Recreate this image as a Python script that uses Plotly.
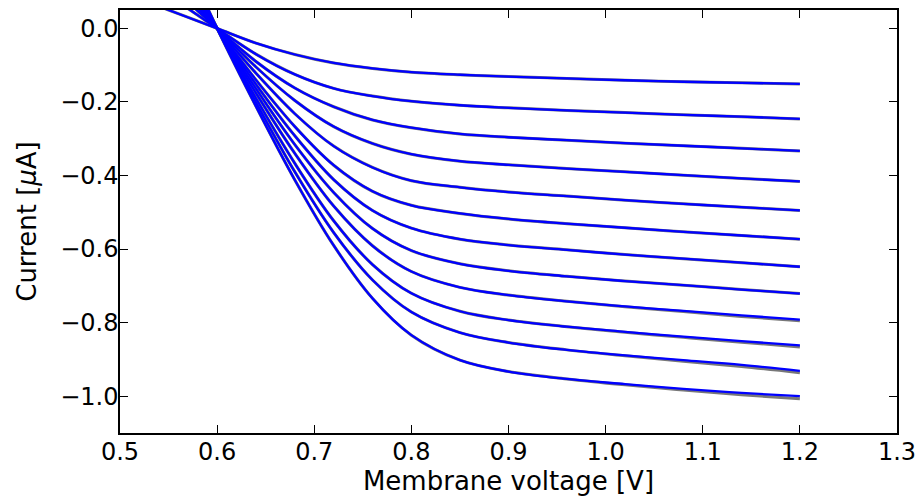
import plotly.graph_objects as go

# Membrane voltage sample points [V]
voltage = [0.5, 0.55, 0.6, 0.64, 0.68, 0.72, 0.76, 0.80, 0.85, 0.90, 0.96, 1.02, 1.08, 1.14, 1.2]

# Current curves [uA], top to bottom
c1 = [0.10, 0.05, 0, -0.040, -0.071, -0.094, -0.109, -0.119, -0.126, -0.131, -0.136, -0.141, -0.145, -0.148, -0.151]
c2 = [0.18, 0.09, 0, -0.070, -0.125, -0.163, -0.184, -0.198, -0.209, -0.216, -0.223, -0.229, -0.235, -0.240, -0.246]
c3 = [0.24, 0.12, 0, -0.090, -0.162, -0.213, -0.249, -0.270, -0.287, -0.296, -0.304, -0.312, -0.319, -0.326, -0.333]
c4 = [0.28, 0.14, 0, -0.105, -0.196, -0.267, -0.313, -0.342, -0.361, -0.371, -0.381, -0.390, -0.399, -0.408, -0.416]
c5 = [0.32, 0.16, 0, -0.122, -0.232, -0.320, -0.378, -0.414, -0.432, -0.445, -0.456, -0.467, -0.477, -0.486, -0.495]
c6 = [0.37, 0.184, 0, -0.140, -0.267, -0.372, -0.443, -0.481, -0.503, -0.518, -0.531, -0.542, -0.553, -0.563, -0.573]
c7 = [0.40, 0.20, 0, -0.152, -0.292, -0.411, -0.495, -0.543, -0.573, -0.589, -0.602, -0.615, -0.626, -0.637, -0.648]
c8 = [0.43, 0.217, 0, -0.164, -0.316, -0.446, -0.544, -0.604, -0.640, -0.659, -0.674, -0.687, -0.698, -0.710, -0.721]
c9 = [0.47, 0.233, 0, -0.176, -0.340, -0.483, -0.591, -0.661, -0.704, -0.725, -0.742, -0.756, -0.768, -0.780, -0.792]
c10 = [0.51, 0.255, 0, -0.190, -0.367, -0.523, -0.642, -0.720, -0.769, -0.793, -0.811, -0.825, -0.838, -0.850, -0.862]
c11 = [0.54, 0.27, 0, -0.201, -0.390, -0.555, -0.684, -0.771, -0.827, -0.854, -0.874, -0.889, -0.902, -0.915, -0.931]
c12 = [0.58, 0.29, 0, -0.212, -0.412, -0.590, -0.734, -0.834, -0.902, -0.933, -0.953, -0.967, -0.980, -0.991, -1.000]
curves = [c1, c2, c3, c4, c5, c6, c7, c8, c9, c10, c11, c12]

# Gray reference curves: identical to the blue ones except slightly lower tails (1.02..1.2 V)
gray_tails = {
    8: [-0.757, -0.770, -0.783, -0.795],
    9: [-0.826, -0.840, -0.853, -0.866],
    10: [-0.890, -0.905, -0.919, -0.936],
    11: [-0.969, -0.983, -0.996, -1.007],
}

xticks = [0.5, 0.6, 0.7, 0.8, 0.9, 1.0, 1.1, 1.2, 1.3]
yticks = [-1.0, -0.8, -0.6, -0.4, -0.2, 0.0]

FONT = "DejaVu Sans"

fig = go.Figure()
for i, c in enumerate(curves):
    g = list(c)
    if i in gray_tails:
        g = c[:-4] + gray_tails[i]
    fig.add_trace(go.Scatter(x=voltage, y=g, mode="lines",
                             line=dict(color="rgb(120,120,120)", width=3.0, shape="spline", smoothing=1.0),
                             showlegend=False, hoverinfo="skip"))
for c in curves:
    fig.add_trace(go.Scatter(x=voltage, y=c, mode="lines",
                             line=dict(color="#0000ff", width=2.3, shape="spline", smoothing=1.0),
                             showlegend=False))

axis_common = dict(
    showline=True, linecolor="black", linewidth=1.5, mirror="ticks",
    ticks="inside", ticklen=8, tickwidth=1, tickcolor="black",
    showgrid=False, zeroline=False, automargin=False,
    tickfont=dict(family=FONT, size=24, color="black"),
)

fig.update_xaxes(range=[0.5, 1.3], tickvals=xticks, tickformat=".1f",
                 title=dict(text="Membrane voltage [V]", font=dict(family=FONT, size=26, color="black"), standoff=6),
                 ticklabelstandoff=-4, **axis_common)
fig.update_yaxes(range=[-1.1, 0.05], tickvals=yticks, tickformat=".1f",
                 title=dict(text="Current [<i>μ</i>A]", font=dict(family=FONT, size=26, color="black"), standoff=16),
                 ticklabelstandoff=-5, **axis_common)

fig.update_layout(
    width=920, height=503,
    margin=dict(l=120, r=23, t=10, b=70),
    paper_bgcolor="white", plot_bgcolor="white",
    font=dict(family=FONT, color="black"),
)

fig.write_html("out.html")
